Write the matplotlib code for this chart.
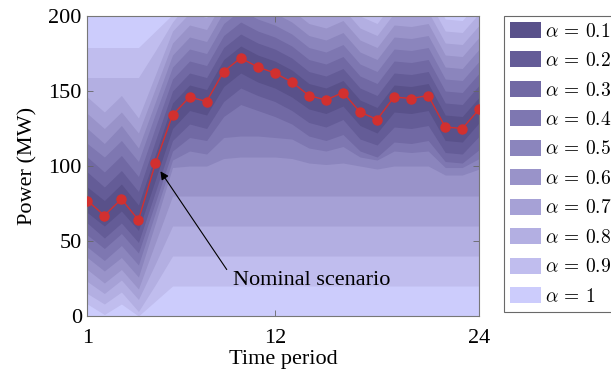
import numpy as np
import matplotlib
matplotlib.use('Agg')
import matplotlib.pyplot as plt
from matplotlib.patches import Patch

plt.rcParams['font.family'] = ['Liberation Serif', 'DejaVu Serif']
plt.rcParams['mathtext.fontset'] = 'cm'

# data
periods = list(range(1, 25))
nominal = [77, 67, 78, 64, 102, 134, 146, 143, 163, 172, 166, 162,
           156, 147, 144, 149, 136, 131, 146, 145, 147, 126, 125, 138]

alpha_labels = ['0.1', '0.2', '0.3', '0.4', '0.5', '0.6', '0.7', '0.8', '0.9', '1']

# lower bounds, one row per alpha level (0.1 ... 0.9)
lower = [
    [69, 60, 70, 57, 91, 125, 137, 134, 153, 162, 156, 152, 146, 138, 135, 140, 127, 122, 136, 135, 137, 117, 116, 129],
    [62, 52, 62, 49, 83, 117, 128, 125, 143, 152, 147, 143, 137, 129, 126, 131, 118, 114, 126, 125, 127, 109, 108, 120],
    [54, 45, 55, 42, 76, 110, 119, 117, 133, 141, 137, 133, 128, 120, 117, 121, 110, 106, 116, 115, 117, 103, 102, 111],
    [46, 37, 47, 34, 69, 104, 110, 108, 119, 120, 120, 119, 118, 112, 110, 113, 106, 104, 110, 109, 110, 99, 99, 105],
    [39, 30, 39, 26, 62, 99, 100, 100, 105, 106, 106, 106, 105, 102, 101, 102, 100, 98, 100, 100, 100, 94, 94, 98],
    [31, 22, 31, 18, 49, 80, 80, 80, 80, 80, 80, 80, 80, 80, 80, 80, 80, 80, 80, 80, 80, 80, 80, 80],
    [23, 15, 24, 11, 35, 60, 60, 60, 60, 60, 60, 60, 60, 60, 60, 60, 60, 60, 60, 60, 60, 60, 60, 60],
    [15, 8, 16, 3, 21, 40, 40, 40, 40, 40, 40, 40, 40, 40, 40, 40, 40, 40, 40, 40, 40, 40, 40, 40],
    [8, 1, 8, 0, 10, 20, 20, 20, 20, 20, 20, 20, 20, 20, 20, 20, 20, 20, 20, 20, 20, 20, 20, 20],
]

# upper bounds, one row per alpha level (0.1 ... 0.9)
upper = [
    [86, 77, 88, 74, 108, 142, 154, 151, 171, 180, 174, 170, 164, 155, 152, 157, 144, 139, 154, 153, 155, 134, 133, 146],
    [96, 86, 97, 83, 117, 150, 162, 159, 179, 188, 182, 178, 172, 163, 160, 165, 152, 147, 162, 161, 163, 142, 141, 154],
    [106, 96, 107, 93, 126, 158, 170, 167, 187, 196, 190, 186, 180, 171, 168, 173, 160, 155, 170, 169, 171, 150, 149, 162],
    [115, 106, 117, 103, 135, 166, 178, 175, 195, 204, 198, 194, 188, 179, 176, 181, 168, 163, 178, 177, 179, 158, 157, 170],
    [125, 115, 127, 112, 143, 174, 186, 183, 203, 212, 206, 202, 196, 187, 184, 189, 176, 171, 186, 185, 187, 166, 165, 178],
    [135, 125, 136, 122, 152, 182, 194, 191, 211, 220, 214, 210, 204, 195, 192, 197, 184, 179, 194, 193, 195, 174, 173, 186],
    [146, 136, 147, 132, 161, 190, 202, 199, 219, 228, 222, 218, 212, 203, 200, 205, 192, 187, 202, 201, 203, 182, 181, 194],
    [159, 159, 159, 159, 177, 196, 210, 207, 227, 236, 230, 226, 220, 211, 208, 213, 200, 195, 210, 209, 211, 190, 189, 202],
    [179, 179, 179, 179, 190, 201, 218, 215, 235, 244, 238, 234, 228, 219, 216, 221, 208, 203, 218, 217, 219, 198, 197, 210],
]

colors = ['#59518a', '#645c97', '#7169a4', '#7e77b1', '#8b85bd',
          '#9993c9', '#a6a1d6', '#b3afe2', '#c0bdee', '#ccccfc']

fig = plt.figure(figsize=(6.11, 3.85), dpi=100)
ax = fig.add_axes([0.1429, 0.1792, 0.6416, 0.7792])
ax.set_facecolor(colors[-1])

# draw widest band first so darker ones sit on top
for i in range(len(lower) - 1, -1, -1):
    ax.fill_between(periods, lower[i], upper[i], color=colors[i], lw=0)

ax.plot(periods, nominal, '-o', color='#d2302f', lw=1, ms=6.5, zorder=5)

ax.annotate('Nominal scenario', xy=(5.2, 98), xytext=(9.55, 24),
            fontsize=16, ha='left', va='center',
            arrowprops=dict(arrowstyle='-|>', color='k', lw=0.8,
                            mutation_scale=12, shrinkA=0, shrinkB=2,
                            relpos=(-0.04, 1.05)))

ax.set_xlim(1, 24)
ax.set_ylim(0, 200)
ax.set_xticks([1, 12, 24])
ax.set_yticks([0, 50, 100, 150, 200])
ax.tick_params(direction='in', top=True, right=True, length=4, width=0.6,
               color='#666666', labelsize=16)
ax.tick_params(axis='x', pad=9)
ax.tick_params(axis='y', pad=4)
for s in ax.spines.values():
    s.set_color('#777777')
    s.set_linewidth(0.8)

ax.set_xlabel('Time period', fontsize=16, labelpad=2)
ax.set_ylabel('Power (MW)', fontsize=16, labelpad=8)

handles = [Patch(facecolor=c, edgecolor='none') for c in colors]
labels = [r'$\alpha \,=\, %s$' % a for a in alpha_labels]
leg = fig.legend(handles, labels, loc='upper left',
                 bbox_to_anchor=(504 / 611, 1 - 16 / 385),
                 fontsize=14, frameon=True, fancybox=False,
                 handlelength=1.6, handleheight=0.9, handletextpad=0.2,
                 labelspacing=0.55, borderpad=0.3, borderaxespad=0)
leg.get_frame().set_edgecolor('#444444')
leg.get_frame().set_linewidth(0.8)

fig.savefig('out.png', dpi=100)
